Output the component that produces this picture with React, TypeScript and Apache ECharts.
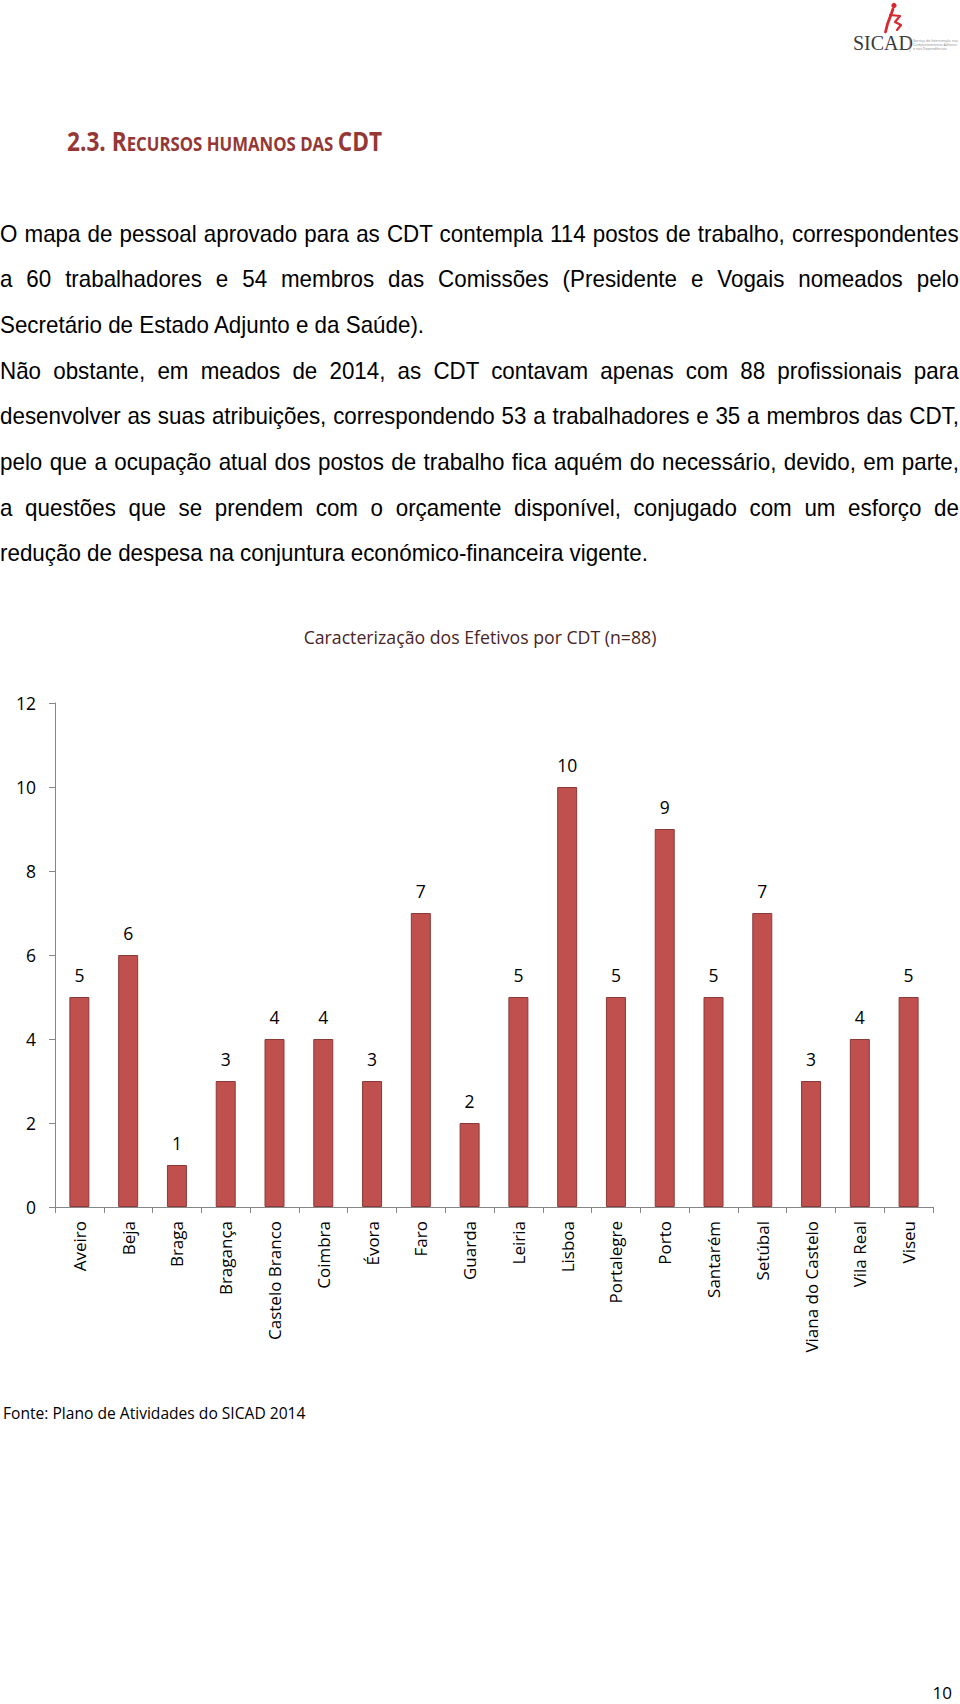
import React, { useEffect, useRef } from "react";
import * as echarts from "echarts";

// ---------- data ----------
const categories = [
  "Aveiro", "Beja", "Braga", "Bragança", "Castelo Branco", "Coimbra", "Évora", "Faro", "Guarda",
  "Leiria", "Lisboa", "Portalegre", "Porto", "Santarém", "Setúbal", "Viana do Castelo", "Vila Real", "Viseu",
];
const efetivos = [5, 6, 1, 3, 4, 4, 3, 7, 2, 5, 10, 5, 9, 5, 7, 3, 4, 5];
const yMin = 0;
const yMax = 12;
const yStep = 2;

const chartTitle = "Caracterização dos Efetivos por CDT (n=88)";
const sourceNote = "Fonte: Plano de Atividades do SICAD 2014";
const pageNumber = "10";
const headingBig1 = "2.3. R";
const headingSmall = "ECURSOS HUMANOS DAS ";
const headingBig2 = "CDT";
const logoWord = "SICAD";
const logoSmallLines = ["Serviço de Intervenção nos", "Comportamentos Aditivos", "e nas Dependências"];

const bodyLines = [
  "O mapa de pessoal aprovado para as CDT contempla 114 postos de trabalho, correspondentes",
  "a 60 trabalhadores e 54 membros das Comissões (Presidente e Vogais nomeados pelo",
  "Secretário de Estado Adjunto e da Saúde).",
  "Não obstante, em meados de 2014, as CDT contavam apenas com 88 profissionais para",
  "desenvolver as suas atribuições, correspondendo 53 a trabalhadores e 35 a membros das CDT,",
  "pelo que a ocupação atual dos postos de trabalho fica aquém do necessário, devido, em parte,",
  "a questões que se prendem com o orçamente disponível, conjugado com um esforço de",
  "redução de despesa na conjuntura económico-financeira vigente.",
];
const bodyJustified = [true, true, false, true, true, true, true, false];

// ---------- text measuring ----------
const measureCtx = document.createElement("canvas").getContext("2d") as CanvasRenderingContext2D;
function textWidth(t: string, font: string): number {
  measureCtx.font = font;
  return measureCtx.measureText(t).width;
}

const BODY_FAMILY = '"Liberation Sans", Arial, sans-serif';
const BODY_SIZE = 24;
const RIGHT_EDGE = 959;

function BodyText() {
  const font = `${BODY_SIZE}px ${BODY_FAMILY}`;
  const widths = bodyLines.map((t) => textWidth(t, font));
  let k = (418 / widths[2] + 659 / widths[7]) / 2;
  bodyLines.forEach((_, i) => {
    if (bodyJustified[i]) k = Math.min(k, (RIGHT_EDGE - 2) / widths[i]);
  });
  const firstCenter = 233.7;
  const step = 45.67;
  return (
    <>
      {bodyLines.map((t, i) => {
        const spaces = (t.match(/ /g) || []).length;
        const ws = bodyJustified[i] ? (RIGHT_EDGE / k - widths[i]) / spaces : 0;
        return (
          <div
            key={i}
            style={{
              position: "absolute",
              left: 0,
              top: firstCenter + i * step - 23,
              height: 46,
              lineHeight: "46px",
              whiteSpace: "nowrap",
              fontFamily: BODY_FAMILY,
              fontSize: BODY_SIZE,
              color: "#000",
              wordSpacing: `${ws}px`,
              transform: `scaleX(${k})`,
              transformOrigin: "0 50%",
            }}
          >
            {t}
          </div>
        );
      })}
    </>
  );
}

const HEAD_FAMILY = '"Open Sans", sans-serif';
function Heading() {
  const bigF = `bold 27px ${HEAD_FAMILY}`;
  const smallF = `bold 20px ${HEAD_FAMILY}`;
  const w = textWidth(headingBig1, bigF) + textWidth(headingSmall, smallF) + textWidth(headingBig2, bigF);
  const k = 315 / w;
  return (
    <div
      style={{
        position: "absolute",
        left: 67,
        top: 141 - 20,
        height: 40,
        lineHeight: "40px",
        whiteSpace: "nowrap",
        fontFamily: HEAD_FAMILY,
        fontWeight: "bold",
        color: "#953735",
        transform: `scaleX(${k})`,
        transformOrigin: "0 50%",
      }}
    >
      <span style={{ fontSize: 27 }}>{headingBig1}</span>
      <span style={{ fontSize: 20 }}>{headingSmall}</span>
      <span style={{ fontSize: 27 }}>{headingBig2}</span>
    </div>
  );
}

const LABEL_FAMILY = '"Open Sans", sans-serif';

export default function App() {
  const ref = useRef<HTMLDivElement>(null);

  useEffect(() => {
    if (!ref.current) return;
    const chart = echarts.init(ref.current, null, { renderer: "svg" });
    const red = "#d7282f";
    chart.setOption({
      animation: false,
      backgroundColor: "#ffffff",
      title: {
        text: chartTitle,
        left: "center",
        top: 628,
        padding: 0,
        textStyle: { fontFamily: LABEL_FAMILY, fontSize: 17.7, fontWeight: "normal", color: "#4a2525" },
      },
      grid: { left: 55, right: 27, top: 703, bottom: 497, containLabel: false },
      xAxis: {
        type: "category",
        data: categories,
        boundaryGap: true,
        axisLine: { show: true, lineStyle: { color: "#868686", width: 1 } },
        axisTick: { show: true, length: 6, lineStyle: { color: "#868686" } },
        axisLabel: { rotate: 90, margin: 14, fontSize: 17, color: "#000", fontFamily: LABEL_FAMILY, interval: 0 },
      },
      yAxis: {
        type: "value",
        min: yMin,
        max: yMax,
        interval: yStep,
        axisLine: { show: true, lineStyle: { color: "#868686", width: 1 } },
        axisTick: { show: true, length: 6, lineStyle: { color: "#868686" } },
        splitLine: { show: false },
        axisLabel: { margin: 19, fontSize: 17.5, color: "#000", fontFamily: LABEL_FAMILY },
      },
      series: [
        {
          type: "bar",
          data: efetivos,
          barWidth: 20,
          itemStyle: { color: "#C0504D", borderColor: "#8C3A38", borderWidth: 1 },
          label: { show: true, position: "top", distance: 13, fontSize: 17.5, color: "#000", fontFamily: LABEL_FAMILY },
        },
      ],
      graphic: [
        // logo figure
        { type: "circle", shape: { cx: 894, cy: 5.5, r: 2.6 }, style: { fill: red } },
        {
          type: "polyline",
          shape: { points: [[893, 9], [890.5, 16], [887.5, 24], [885.5, 32]] },
          style: { stroke: red, lineWidth: 2.8, fill: null, lineCap: "round", lineJoin: "round" },
        },
        {
          type: "polyline",
          shape: { points: [[890, 15], [900, 16], [895, 22], [901, 25], [897, 30]] },
          style: { stroke: red, lineWidth: 2.2, fill: null, lineCap: "round", lineJoin: "round" },
        },
        {
          type: "text",
          x: 853,
          y: 53,
          style: { text: logoWord, fontFamily: '"Liberation Serif", serif', fontSize: 20, fill: "#3a3a3a", verticalAlign: "bottom" },
        },
        { type: "line", shape: { x1: 910, y1: 38, x2: 910, y2: 52 }, style: { stroke: "#b0b0b0", lineWidth: 0.6 } },
        ...logoSmallLines.map((t, i) => ({
          type: "text",
          x: 913,
          y: 40 + i * 4.2,
          style: { text: t, fontFamily: LABEL_FAMILY, fontSize: 3.6, fill: "#8a8a8a", verticalAlign: "middle" },
        })),
        {
          type: "text",
          x: 3,
          y: 1413,
          style: { text: sourceNote, fontFamily: LABEL_FAMILY, fontSize: 15.6, fill: "#000", verticalAlign: "middle" },
        },
        {
          type: "text",
          x: 952,
          y: 1692,
          style: { text: pageNumber, fontFamily: LABEL_FAMILY, fontSize: 17, fill: "#000", align: "right", verticalAlign: "middle" },
        },
      ],
    });
    return () => chart.dispose();
  }, []);

  return (
    <div style={{ position: "absolute", left: 0, top: 0, width: 960, height: 1704, background: "#fff", overflow: "hidden" }}>
      <div ref={ref} style={{ position: "absolute", left: 0, top: 0, width: 960, height: 1704 }} />
      <Heading />
      <BodyText />
    </div>
  );
}
